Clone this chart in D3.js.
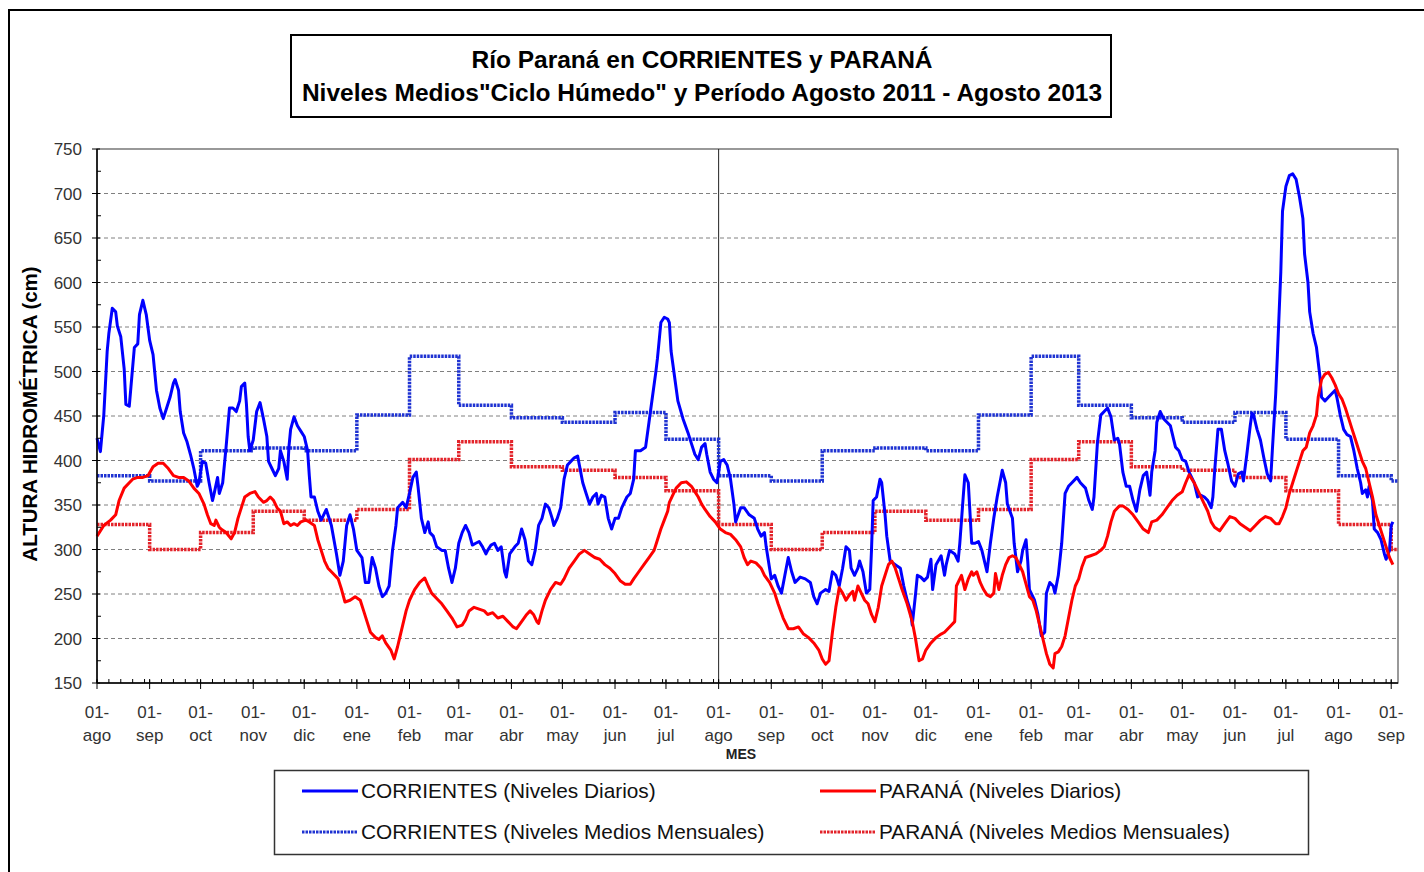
<!DOCTYPE html>
<html>
<head>
<meta charset="utf-8">
<script src="https://cdnjs.cloudflare.com/ajax/libs/d3/7.8.5/d3.min.js"></script>
<style>
  body { margin: 0; background: #fff; }
  svg { font-family: "Liberation Sans", Arial, sans-serif; }
</style>
</head>
<body>
<div id="chart"></div>
<script>
// Month names (hydrological year, starting in August)
var monthLabels = ["ago", "sep", "oct", "nov", "dic", "ene", "feb", "mar", "abr", "may", "jun", "jul"];

// Monthly mean levels "Ciclo Húmedo" (cm), ago -> jul
var corrientesMedio = [383, 377, 411, 414, 411, 451, 517, 462, 448, 443, 454, 424];
var paranaMedio = [328, 300, 319, 343, 333, 345, 401, 421, 393, 389, 381, 366];

// Daily levels: [days since 01-ago-2011, cm]
var corrientesDiario = [
  [0,425],[2,410],[4,451],[6,523],[7,543],[9,571],[11,567],[12,551],[14,539],[16,503],[17,463],[19,461],
  [20,483],[22,527],[24,531],[25,564],[27,580],[29,564],[31,535],[33,519],[35,479],[37,459],[39,447],[41,459],
  [43,471],[45,487],[46,491],[48,479],[49,455],[51,431],[53,421],[55,407],[57,391],[59,371],[60,375],[62,399],
  [64,397],[66,375],[68,355],[69,363],[71,381],[72,363],[74,375],[76,415],[78,459],[80,459],[82,455],[84,467],
  [85,483],[87,487],[88,463],[89,427],[90,411],[92,423],[94,455],[96,465],[98,447],[100,427],[101,399],[103,391],
  [105,383],[107,391],[108,411],[110,399],[112,379],[113,415],[114,435],[116,449],[118,439],[120,433],[122,427],
  [124,411],[125,383],[126,359],[128,359],[130,343],[132,333],[135,345],[138,327],[141,295],[143,271],[145,287],
  [147,327],[149,339],[151,323],[153,299],[156,291],[158,263],[160,263],[162,291],[164,279],[166,259],[168,247],
  [170,251],[172,259],[174,299],[176,327],[177,347],[180,353],[182,347],[184,363],[186,381],[188,387],[189,371],
  [191,335],[193,319],[195,331],[196,319],[198,315],[200,303],[203,299],[205,299],[207,279],[209,263],[211,279],
  [213,307],[215,319],[217,327],[219,319],[221,305],[223,307],[225,309],[227,303],[229,295],[230,299],[232,305],
  [234,307],[236,299],[238,303],[240,275],[241,269],[243,295],[246,303],[248,307],[250,323],[252,311],[254,287],
  [256,283],[258,299],[260,327],[262,335],[264,351],[266,347],[268,335],[269,327],[271,335],[273,347],[275,379],
  [277,395],[279,399],[281,403],[283,405],[284,395],[286,375],[288,363],[290,351],[292,359],[294,363],[295,351],
  [297,361],[299,359],[301,335],[303,323],[305,335],[307,335],[309,347],[312,359],[314,363],[316,379],[317,411],
  [320,411],[323,415],[325,443],[327,471],[329,499],[330,515],[332,555],[334,561],[336,559],[337,555],[338,523],
  [340,495],[342,467],[345,447],[348,431],[350,419],[352,407],[354,401],[356,415],[358,419],[359,407],[361,387],
  [363,379],[365,375],[367,399],[369,401],[371,395],[373,379],[375,351],[376,331],[379,347],[381,347],[384,339],
  [387,335],[389,323],[391,315],[393,319],[394,303],[396,279],[397,267],[399,271],[401,259],[403,251],[405,271],
  [407,291],[409,275],[411,263],[414,269],[417,267],[420,263],[422,247],[424,239],[426,251],[429,255],[431,253],
  [433,275],[435,271],[437,259],[439,279],[441,303],[443,299],[444,279],[446,271],[448,279],[449,287],[451,275],
  [453,251],[455,255],[456,299],[457,355],[459,359],[461,379],[462,375],[464,339],[465,315],[467,287],[470,283],
  [473,279],[475,259],[477,243],[479,231],[480,215],[482,251],[483,271],[485,269],[487,265],[489,269],[491,289],
  [492,255],[494,283],[497,293],[499,271],[500,283],[502,299],[505,295],[507,287],[508,307],[510,359],[511,384],
  [513,375],[515,307],[517,307],[519,309],[521,299],[523,283],[524,275],[526,307],[528,335],[530,359],[532,379],
  [533,389],[535,375],[536,351],[539,335],[540,307],[542,275],[544,287],[545,299],[547,311],[548,287],[549,255],
  [552,243],[554,227],[556,203],[558,207],[559,251],[561,263],[563,259],[564,251],[566,271],[568,307],[569,335],
  [570,363],[572,371],[574,375],[577,381],[579,375],[582,369],[584,355],[586,345],[587,359],[589,419],[591,451],
  [593,455],[595,459],[597,449],[599,423],[601,425],[602,419],[604,387],[606,371],[608,371],[610,355],[612,343],
  [614,367],[616,383],[618,387],[620,361],[621,387],[623,411],[624,443],[626,455],[628,447],[630,443],[632,439],
  [634,423],[635,415],[637,411],[639,401],[641,399],[643,387],[646,375],[648,359],[650,361],[652,359],[654,355],
  [656,347],[657,359],[658,387],[659,411],[660,435],[662,435],[663,423],[664,411],[666,395],[668,377],[670,371],
  [672,385],[674,387],[675,377],[677,407],[679,439],[680,453],[681,451],[683,435],[685,423],[687,403],[689,385],
  [691,377],[692,411],[694,475],[695,519],[697,612],[698,680],[700,708],[702,720],[704,722],[706,716],[708,696],
  [710,672],[711,632],[713,600],[714,567],[716,543],[718,527],[720,495],[721,471],[723,467],[725,471],[727,475],
  [729,479],[730,471],[732,451],[734,435],[736,429],[738,427],[740,411],[742,391],[744,375],[745,363],[747,367],
  [748,359],[749,371],[751,355],[752,323],[754,319],[756,311],[758,295],[759,289],[761,299],[762,327],[763,331]
];

var paranaDiario = [
  [0,315],[4,327],[8,333],[11,339],[13,355],[16,369],[19,375],[21,379],[24,381],[27,381],[30,383],[33,393],
  [36,397],[39,397],[42,391],[45,383],[48,381],[51,381],[54,377],[57,369],[60,363],[63,351],[65,339],[67,329],
  [69,327],[70,333],[72,325],[73,323],[76,319],[79,312],[81,319],[83,335],[85,347],[87,359],[90,363],[93,365],
  [95,359],[98,353],[100,355],[102,359],[104,355],[106,347],[108,343],[110,329],[112,331],[114,327],[116,329],
  [118,327],[120,331],[123,333],[125,331],[128,327],[130,311],[132,299],[134,287],[136,279],[139,273],[142,267],
  [144,255],[146,241],[149,243],[152,247],[155,243],[157,231],[159,219],[161,207],[164,201],[166,199],[168,203],
  [170,195],[173,187],[175,177],[177,191],[178,199],[180,215],[182,231],[184,243],[187,255],[190,263],[193,268],
  [195,259],[197,251],[200,245],[203,239],[206,231],[209,223],[212,213],[215,215],[217,221],[219,231],[222,235],
  [225,233],[228,231],[230,227],[233,229],[236,223],[239,225],[242,219],[245,213],[247,211],[250,219],[253,227],
  [255,231],[257,227],[259,219],[260,217],[262,231],[264,243],[267,255],[270,263],[273,261],[275,267],[278,279],
  [281,287],[284,295],[287,299],[290,295],[293,291],[296,289],[299,283],[302,279],[305,273],[308,265],[311,261],
  [314,261],[316,267],[319,275],[322,283],[325,291],[328,299],[330,311],[332,323],[334,333],[336,343],[337,353],
  [339,361],[341,369],[344,375],[347,376],[350,371],[352,365],[354,359],[356,351],[358,345],[361,337],[364,331],
  [367,323],[370,319],[373,317],[376,311],[379,303],[381,291],[383,283],[385,287],[388,285],[391,279],[393,271],
  [396,263],[399,251],[401,239],[404,223],[407,211],[410,211],[413,213],[416,205],[419,201],[422,195],[425,187],
  [427,177],[429,171],[431,175],[433,207],[435,235],[437,257],[439,251],[441,243],[443,249],[445,253],[446,243],
  [448,259],[450,251],[452,243],[454,239],[456,227],[458,219],[460,235],[462,259],[464,271],[466,283],[468,287],
  [470,279],[472,267],[474,255],[477,239],[480,219],[482,199],[484,175],[486,177],[488,187],[491,195],[494,201],
  [497,205],[499,207],[502,213],[505,219],[506,259],[509,271],[511,255],[513,267],[515,275],[516,271],[518,275],
  [520,263],[522,255],[524,249],[526,247],[528,251],[529,273],[531,255],[533,271],[535,283],[537,291],[539,293],
  [541,291],[543,283],[545,275],[547,261],[549,247],[551,243],[553,231],[555,215],[557,199],[559,183],[561,171],
  [563,167],[564,183],[566,185],[568,191],[570,203],[572,223],[574,243],[576,259],[578,267],[580,281],[582,291],
  [585,293],[588,295],[591,299],[593,303],[595,315],[597,331],[599,343],[602,349],[604,349],[607,345],[610,339],
  [613,331],[616,323],[619,319],[621,331],[624,333],[627,339],[630,347],[633,355],[636,361],[639,365],[641,375],
  [643,384],[646,375],[648,367],[651,355],[654,343],[656,331],[658,325],[661,321],[664,329],[667,337],[670,335],
  [673,329],[676,325],[679,321],[682,327],[685,333],[688,337],[691,335],[694,329],[696,329],[698,337],[700,347],
  [702,363],[704,375],[706,387],[708,399],[710,411],[712,415],[714,431],[716,439],[718,451],[719,471],[721,491],
  [723,497],[725,499],[727,493],[729,485],[731,475],[733,469],[735,459],[737,447],[739,435],[741,423],[743,411],
  [745,399],[747,391],[749,375],[751,359],[753,339],[755,327],[757,315],[759,303],[761,291],[763,283]
];

// Axis values
var yTicks = [150, 200, 250, 300, 350, 400, 450, 500, 550, 600, 650, 700, 750];

// Layout
var width = 1424,
    height = 872,
    plot = { left: 97, right: 1398, top: 149, bottom: 683 },
    startDate = new Date(2011, 7, 1),
    splitDate = new Date(2012, 7, 1),
    endDate = new Date(2013, 8, 5);

var svg = d3.select("#chart").append("svg")
    .attr("width", width)
    .attr("height", height);

// Scales
var xScale = d3.scaleTime().domain([startDate, endDate]).range([plot.left, plot.right]),
    yScale = d3.scaleLinear().domain([150, 750]).range([plot.bottom, plot.top]);

var toDate = function (d) { return d3.timeDay.offset(startDate, d[0]); };

var dailyLine = d3.line()
    .x(function (d) { return xScale(toDate(d)); })
    .y(function (d) { return yScale(d[1]); });

var stepLine = d3.line()
    .curve(d3.curveStepAfter)
    .x(function (d) { return xScale(d.date); })
    .y(function (d) { return yScale(d.value); });

// Outer chart frame (only top and left edges are visible)
svg.append("path")
    .attr("d", "M9,872 L9,10 L1424,10")
    .attr("fill", "none")
    .attr("stroke", "#000")
    .attr("stroke-width", 2);

// Title
svg.append("rect")
    .attr("x", 291).attr("y", 35)
    .attr("width", 820).attr("height", 82)
    .attr("fill", "#fff")
    .attr("stroke", "#000")
    .attr("stroke-width", 2);

var title = svg.append("text")
    .attr("text-anchor", "middle")
    .attr("font-weight", "bold")
    .attr("font-size", "24.5px")
    .attr("fill", "#000");
title.append("tspan").attr("x", 702).attr("y", 68).text("Río Paraná en CORRIENTES y PARANÁ");
title.append("tspan").attr("x", 702).attr("y", 101).text("Niveles Medios\"Ciclo Húmedo\" y Período Agosto 2011 - Agosto 2013");

// Gridlines
svg.append("g")
    .selectAll("line")
    .data(yTicks.filter(function (d) { return d > 150 && d < 750; }))
    .enter().append("line")
    .attr("x1", plot.left).attr("x2", plot.right)
    .attr("y1", function (d) { return yScale(d); })
    .attr("y2", function (d) { return yScale(d); })
    .attr("stroke", "#808080")
    .attr("stroke-width", 1)
    .attr("stroke-dasharray", "4,3");

// Plot frame
svg.append("rect")
    .attr("x", plot.left).attr("y", plot.top)
    .attr("width", plot.right - plot.left)
    .attr("height", plot.bottom - plot.top)
    .attr("fill", "none")
    .attr("stroke", "#555")
    .attr("stroke-width", 1.2);

// Separator between the two hydrological years
svg.append("line")
    .attr("x1", xScale(splitDate)).attr("x2", xScale(splitDate))
    .attr("y1", plot.top).attr("y2", plot.bottom)
    .attr("stroke", "#222")
    .attr("stroke-width", 1);

// Monthly means as steps, repeated every year
var months = d3.timeMonth.range(startDate, endDate);
function monthlySteps(values) {
    var pts = months.map(function (m, i) { return { date: m, value: values[i % 12] }; });
    pts.push({ date: endDate, value: values[(months.length - 1) % 12] });
    return pts;
}

svg.append("path")
    .datum(monthlySteps(paranaMedio))
    .attr("d", stepLine)
    .attr("fill", "none")
    .attr("stroke", "#e3232a")
    .attr("stroke-width", 3.5)
    .attr("stroke-dasharray", "2.5,1");

svg.append("path")
    .datum(monthlySteps(corrientesMedio))
    .attr("d", stepLine)
    .attr("fill", "none")
    .attr("stroke", "#1f33d2")
    .attr("stroke-width", 3.5)
    .attr("stroke-dasharray", "2.5,1");

// Daily levels
svg.append("path")
    .datum(corrientesDiario)
    .attr("d", dailyLine)
    .attr("fill", "none")
    .attr("stroke", "#0000ff")
    .attr("stroke-width", 3)
    .attr("stroke-linejoin", "round");

svg.append("path")
    .datum(paranaDiario)
    .attr("d", dailyLine)
    .attr("fill", "none")
    .attr("stroke", "#ff0000")
    .attr("stroke-width", 3)
    .attr("stroke-linejoin", "round");

// y-axis
var yAxisG = svg.append("g").attr("transform", "translate(" + plot.left + ",0)");
yAxisG.selectAll(".minor")
    .data(d3.range(175, 750, 50))
    .enter().append("line")
    .attr("x1", 0).attr("x2", 4)
    .attr("y1", function (d) { return yScale(d); })
    .attr("y2", function (d) { return yScale(d); })
    .attr("stroke", "#000");
yAxisG.selectAll(".major")
    .data(yTicks)
    .enter().append("line")
    .attr("x1", -5).attr("x2", 3)
    .attr("y1", function (d) { return yScale(d); })
    .attr("y2", function (d) { return yScale(d); })
    .attr("stroke", "#000");
yAxisG.selectAll("text")
    .data(yTicks)
    .enter().append("text")
    .attr("x", -15)
    .attr("y", function (d) { return yScale(d); })
    .attr("dy", "0.36em")
    .attr("text-anchor", "end")
    .attr("font-size", "17px")
    .attr("fill", "#333")
    .text(function (d) { return d; });
yAxisG.append("line")
    .attr("y1", plot.top).attr("y2", plot.bottom)
    .attr("stroke", "#000").attr("stroke-width", 1.5);

svg.append("text")
    .attr("transform", "translate(37," + ((plot.top + plot.bottom) / 2 - 2) + ") rotate(-90)")
    .attr("text-anchor", "middle")
    .attr("font-weight", "bold")
    .attr("font-size", "20.5px")
    .attr("fill", "#000")
    .text("ALTURA HIDROMÉTRICA (cm)");

// x-axis
var xAxisG = svg.append("g").attr("transform", "translate(0," + plot.bottom + ")");
xAxisG.selectAll(".minor")
    .data(d3.timeDay.every(7).range(startDate, endDate))
    .enter().append("line")
    .attr("x1", function (d) { return xScale(d); })
    .attr("x2", function (d) { return xScale(d); })
    .attr("y1", -4).attr("y2", 0)
    .attr("stroke", "#000");
var monthTicks = d3.timeMonth.range(startDate, d3.timeDay.offset(endDate, -3));
xAxisG.selectAll(".major")
    .data(monthTicks)
    .enter().append("line")
    .attr("x1", function (d) { return xScale(d); })
    .attr("x2", function (d) { return xScale(d); })
    .attr("y1", -3).attr("y2", 6)
    .attr("stroke", "#000");
var xLabels = xAxisG.selectAll("text")
    .data(monthTicks)
    .enter().append("text")
    .attr("text-anchor", "middle")
    .attr("font-size", "17px")
    .attr("fill", "#333");
xLabels.append("tspan")
    .attr("x", function (d) { return xScale(d); })
    .attr("y", 35)
    .text("01-");
xLabels.append("tspan")
    .attr("x", function (d) { return xScale(d); })
    .attr("y", 58)
    .text(function (d, i) { return monthLabels[i % 12]; });
xAxisG.append("line")
    .attr("x1", plot.left).attr("x2", plot.right)
    .attr("stroke", "#000").attr("stroke-width", 1.5);

svg.append("text")
    .attr("x", 741).attr("y", 759)
    .attr("text-anchor", "middle")
    .attr("font-weight", "bold")
    .attr("font-size", "14px")
    .attr("fill", "#222")
    .text("MES");

// Legend
svg.append("rect")
    .attr("x", 274.5).attr("y", 770.5)
    .attr("width", 1034).attr("height", 84)
    .attr("fill", "#fff")
    .attr("stroke", "#333")
    .attr("stroke-width", 1.5);

var legendItems = [
    { label: "CORRIENTES (Niveles Diarios)", color: "#0000ff", dash: null, x: 302, y: 791 },
    { label: "PARANÁ (Niveles Diarios)", color: "#ff0000", dash: null, x: 820, y: 791 },
    { label: "CORRIENTES (Niveles Medios Mensuales)", color: "#1f33d2", dash: "2.5,1", x: 302, y: 832 },
    { label: "PARANÁ (Niveles Medios Mensuales)", color: "#e3232a", dash: "2.5,1", x: 820, y: 832 }
];

var legend = svg.append("g").selectAll("g")
    .data(legendItems)
    .enter().append("g");
legend.append("line")
    .attr("x1", function (d) { return d.x; })
    .attr("x2", function (d) { return d.x + 56; })
    .attr("y1", function (d) { return d.y; })
    .attr("y2", function (d) { return d.y; })
    .attr("stroke", function (d) { return d.color; })
    .attr("stroke-width", 3)
    .attr("stroke-dasharray", function (d) { return d.dash; });
legend.append("text")
    .attr("x", function (d) { return d.x + 59; })
    .attr("y", function (d) { return d.y; })
    .attr("dy", "0.36em")
    .attr("font-size", "20.8px")
    .attr("fill", "#111")
    .text(function (d) { return d.label; });
</script>
</body>
</html>
